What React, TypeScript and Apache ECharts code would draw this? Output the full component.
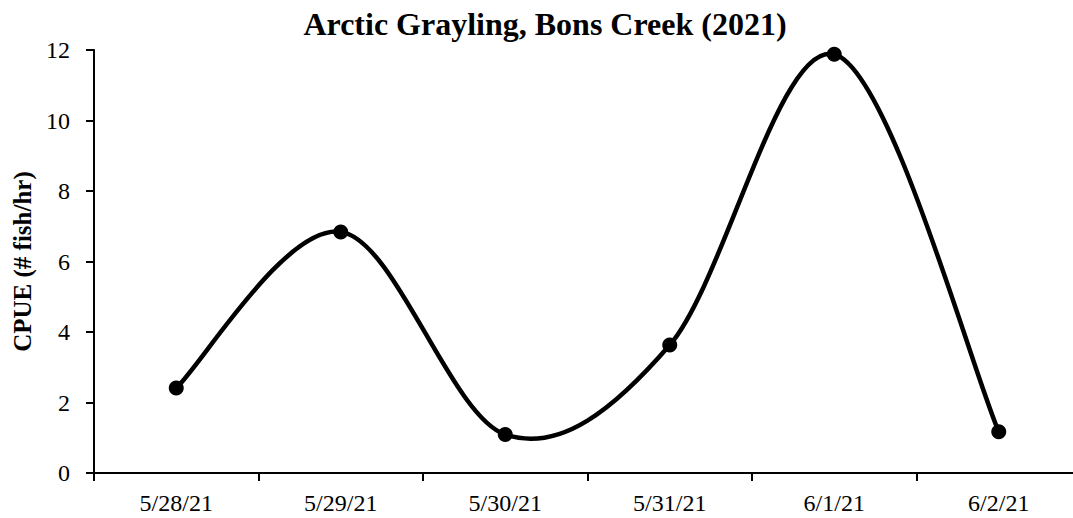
import React, { useEffect, useRef } from "react";
import * as echarts from "echarts";

const categories = ["5/28/21", "5/29/21", "5/30/21", "5/31/21", "6/1/21", "6/2/21"];
const cpue = [2.41, 6.84, 1.09, 3.63, 11.88, 1.17];
const titleText = "Arctic Grayling, Bons Creek (2021)";
const yAxisName = "CPUE (# fish/hr)";

const FONT = "'Liberation Serif', 'Times New Roman', serif";

export default function App() {
  const ref = useRef<HTMLDivElement>(null);
  useEffect(() => {
    if (!ref.current) return;
    const chart = echarts.init(ref.current, undefined, { renderer: "svg" });
    const n = cpue.length;
    chart.setOption({
      animation: false,
      backgroundColor: "#ffffff",
      title: {
        text: titleText,
        left: 540,
        textAlign: "center",
        top: 3,
        textStyle: { fontFamily: FONT, fontWeight: "bold", fontSize: 32, color: "#000" },
      },
      grid: { left: 94, right: 0, top: 50, bottom: 45, containLabel: false },
      xAxis: {
        type: "category",
        data: categories,
        boundaryGap: true,
        axisLine: { lineStyle: { color: "#000", width: 2 } },
        axisTick: { show: true, length: 8, inside: false, lineStyle: { color: "#000", width: 2 } },
        axisLabel: { fontFamily: FONT, fontSize: 24, color: "#000", margin: 18 },
        splitLine: { show: false },
      },
      yAxis: {
        type: "value",
        min: 0,
        max: 12,
        interval: 2,
        name: yAxisName,
        nameLocation: "middle",
        nameGap: 58,
        nameTextStyle: { fontFamily: FONT, fontWeight: "bold", fontSize: 25, color: "#000" },
        axisLine: { show: true, lineStyle: { color: "#000", width: 2 } },
        axisTick: { show: true, length: 8, lineStyle: { color: "#000", width: 2 } },
        axisLabel: { fontFamily: FONT, fontSize: 24, color: "#000", margin: 24 },
        splitLine: { show: false },
      },
      series: [
        {
          type: "custom",
          data: cpue.map((v, i) => [i, v]),
          encode: { x: 0, y: 1 },
          silent: true,
          z: 2,
          renderItem: (params: any, api: any) => {
            const i = params.dataIndex;
            if (i >= n - 1) return null;
            const P = (k: number) => {
              const kk = Math.max(0, Math.min(n - 1, k));
              return api.coord([kk, cpue[kk]]);
            };
            const p0 = P(i - 1);
            const p1 = P(i);
            const p2 = P(i + 1);
            const p3 = P(i + 2);
            return {
              type: "bezierCurve",
              shape: {
                x1: p1[0],
                y1: p1[1],
                cpx1: p1[0] + (p2[0] - p0[0]) / 6,
                cpy1: p1[1] + (p2[1] - p0[1]) / 6,
                cpx2: p2[0] - (p3[0] - p1[0]) / 6,
                cpy2: p2[1] - (p3[1] - p1[1]) / 6,
                x2: p2[0],
                y2: p2[1],
              },
              style: { stroke: "#000", lineWidth: 4.5, fill: null, lineCap: "round" },
            };
          },
        },
        {
          type: "scatter",
          data: cpue,
          symbol: "circle",
          symbolSize: 15,
          itemStyle: { color: "#000", opacity: 1 },
          z: 3,
        },
      ],
    });
    return () => chart.dispose();
  }, []);
  return (
    <div style={{ position: "absolute", left: 0, top: 0, width: 1073, height: 518, overflow: "hidden" }}>
      <div ref={ref} style={{ width: 1081, height: 518 }} />
    </div>
  );
}
